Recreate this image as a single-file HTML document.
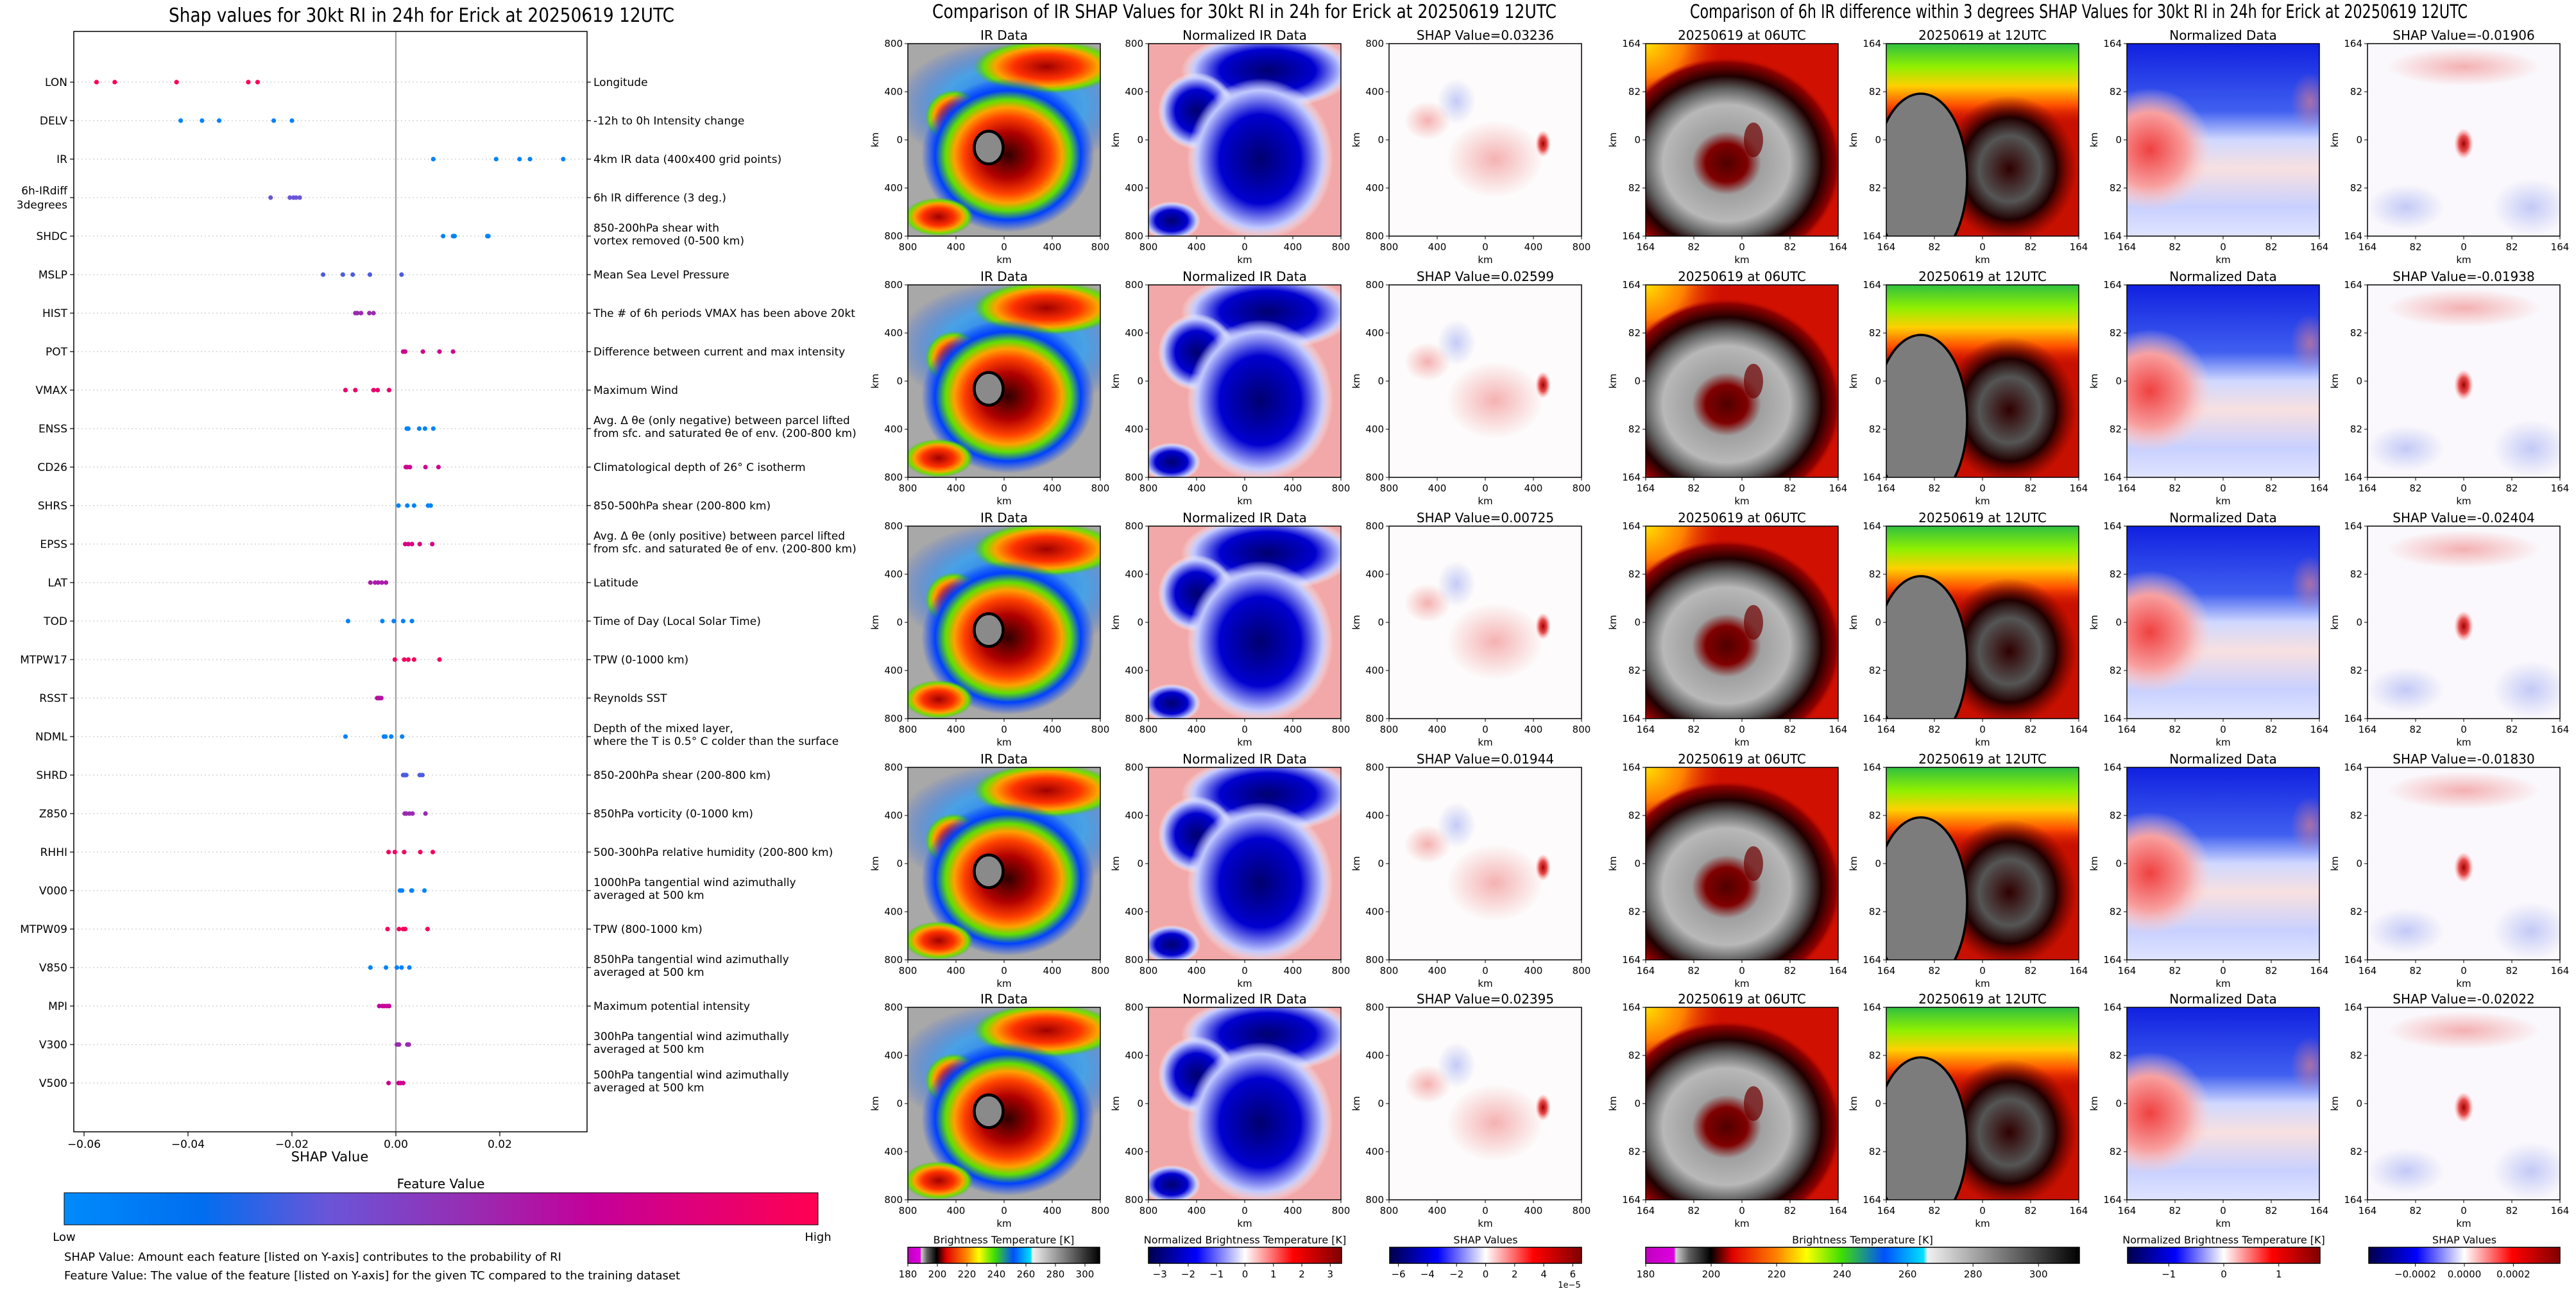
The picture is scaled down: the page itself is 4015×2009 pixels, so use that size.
<!DOCTYPE html>
<html><head><meta charset="utf-8">
<style>
html,body{margin:0;padding:0;background:#fff;}
svg{display:block;font-family:"DejaVu Sans","Liberation Sans",sans-serif;}
</style></head>
<body>
<svg id="root" width="4015" height="2009" viewBox="0 0 4015 2009" xmlns="http://www.w3.org/2000/svg">
<defs>
<radialGradient id="gBlueHalo"><stop offset="0" stop-color="#0050ff" stop-opacity="0.9"/><stop offset="0.6" stop-color="#20a0ff" stop-opacity="0.7"/><stop offset="1" stop-color="#0040ff" stop-opacity="0"/></radialGradient>
<radialGradient id="gRedBand"><stop offset="0" stop-color="#a00000"/><stop offset="0.45" stop-color="#ff3000"/><stop offset="0.7" stop-color="#ffa000"/><stop offset="0.85" stop-color="#70e000"/><stop offset="1" stop-color="#40c000" stop-opacity="0"/></radialGradient>
<radialGradient id="gStorm"><stop offset="0" stop-color="#300000"/><stop offset="0.3" stop-color="#b00000"/><stop offset="0.5" stop-color="#ff4000"/><stop offset="0.62" stop-color="#ffa000"/><stop offset="0.72" stop-color="#60e000"/><stop offset="0.84" stop-color="#0040ff"/><stop offset="1" stop-color="#0040ff" stop-opacity="0"/></radialGradient>
<radialGradient id="gNavy"><stop offset="0" stop-color="#000070"/><stop offset="0.55" stop-color="#0000d0"/><stop offset="0.85" stop-color="#c0c8ff"/><stop offset="1" stop-color="#ffffff" stop-opacity="0"/></radialGradient>
<radialGradient id="gPink"><stop offset="0" stop-color="#f08080" stop-opacity="0.6"/><stop offset="1" stop-color="#f08080" stop-opacity="0"/></radialGradient>
<radialGradient id="gPaleBlue"><stop offset="0" stop-color="#8090f0" stop-opacity="0.45"/><stop offset="1" stop-color="#8090f0" stop-opacity="0"/></radialGradient>
<radialGradient id="gRedSpot"><stop offset="0" stop-color="#a00000"/><stop offset="0.5" stop-color="#e02020" stop-opacity="0.8"/><stop offset="1" stop-color="#ff8080" stop-opacity="0"/></radialGradient>
<radialGradient id="gYellowCorner"><stop offset="0" stop-color="#ffe000"/><stop offset="0.5" stop-color="#ff8000"/><stop offset="1" stop-color="#e02000" stop-opacity="0"/></radialGradient>
<radialGradient id="gSpiral06"><stop offset="0" stop-color="#500000"/><stop offset="0.18" stop-color="#800000"/><stop offset="0.3" stop-color="#a0a0a0"/><stop offset="0.55" stop-color="#b8b8b8"/><stop offset="0.7" stop-color="#606060"/><stop offset="0.82" stop-color="#200000"/><stop offset="0.95" stop-color="#900000"/><stop offset="1" stop-color="#c01000" stop-opacity="0"/></radialGradient>
<radialGradient id="gRing12"><stop offset="0" stop-color="#300000"/><stop offset="0.45" stop-color="#555"/><stop offset="0.7" stop-color="#200000"/><stop offset="1" stop-color="#600000" stop-opacity="0"/></radialGradient>
<linearGradient id="gTop12" x1="0" y1="0" x2="0" y2="1"><stop offset="0" stop-color="#30c040"/><stop offset="0.12" stop-color="#90f000"/><stop offset="0.22" stop-color="#ffd000"/><stop offset="0.32" stop-color="#ff5000"/><stop offset="0.42" stop-color="#d01000" stop-opacity="0"/></linearGradient>
<linearGradient id="gNormData" x1="0" y1="0" x2="0" y2="1"><stop offset="0" stop-color="#1020e0"/><stop offset="0.35" stop-color="#4060f0"/><stop offset="0.5" stop-color="#d0d8ff"/><stop offset="0.65" stop-color="#f8e0e0"/><stop offset="0.85" stop-color="#c8d0ff"/><stop offset="1" stop-color="#e0e4ff"/></linearGradient>
<radialGradient id="gRedLeft"><stop offset="0" stop-color="#f04040"/><stop offset="0.6" stop-color="#f8a0a0"/><stop offset="1" stop-color="#ffd0d0" stop-opacity="0"/></radialGradient>
<linearGradient id="cbFeature" x1="0" x2="1"><stop offset="0" stop-color="#008bfb"/><stop offset="0.18" stop-color="#006ef0"/><stop offset="0.35" stop-color="#6a55d8"/><stop offset="0.55" stop-color="#9a2ab0"/><stop offset="0.7" stop-color="#c4009a"/><stop offset="1" stop-color="#ff0052"/></linearGradient>
<linearGradient id="cbIR" x1="0" x2="1"><stop offset="0" stop-color="#c000c0"/><stop offset="0.065" stop-color="#e000e0"/><stop offset="0.07" stop-color="#d0d0d0"/><stop offset="0.1" stop-color="#606060"/><stop offset="0.15" stop-color="#000"/><stop offset="0.2" stop-color="#e00000"/><stop offset="0.3" stop-color="#ff8000"/><stop offset="0.37" stop-color="#ffff00"/><stop offset="0.45" stop-color="#40e000"/><stop offset="0.55" stop-color="#0050ff"/><stop offset="0.64" stop-color="#00e0ff"/><stop offset="0.65" stop-color="#f0f0f0"/><stop offset="1" stop-color="#000"/></linearGradient>
<linearGradient id="cbSeis" x1="0" x2="1"><stop offset="0" stop-color="#00004c"/><stop offset="0.25" stop-color="#0000ff"/><stop offset="0.5" stop-color="#ffffff"/><stop offset="0.75" stop-color="#ff0000"/><stop offset="1" stop-color="#800000"/></linearGradient>
</defs>
<g id="left-chart"></g>
<g id="images"></g>
<g id="cbars"></g>
</svg>
<script>
// ---- beeswarm data ----
const features = ["LON","DELV","IR","6h-IRdiff\n3degrees","SHDC","MSLP","HIST","POT","VMAX","ENSS","CD26","SHRS","EPSS","LAT","TOD","MTPW17","RSST","NDML","SHRD","Z850","RHHI","V000","MTPW09","V850","MPI","V300","V500"];
const descriptions = ["Longitude","-12h to 0h Intensity change","4km IR data (400x400 grid points)","6h IR difference (3 deg.)","850-200hPa shear with\nvortex removed (0-500 km)","Mean Sea Level Pressure","The # of 6h periods VMAX has been above 20kt","Difference between current and max intensity","Maximum Wind","Avg. Δ θe (only negative) between parcel lifted\nfrom sfc. and saturated θe of env. (200-800 km)","Climatological depth of 26° C isotherm","850-500hPa shear (200-800 km)","Avg. Δ θe (only positive) between parcel lifted\nfrom sfc. and saturated θe of env. (200-800 km)","Latitude","Time of Day (Local Solar Time)","TPW (0-1000 km)","Reynolds SST","Depth of the mixed layer,\nwhere the T is 0.5° C colder than the surface","850-200hPa shear (200-800 km)","850hPa vorticity (0-1000 km)","500-300hPa relative humidity (200-800 km)","1000hPa tangential wind azimuthally\naveraged at 500 km","TPW (800-1000 km)","850hPa tangential wind azimuthally\naveraged at 500 km","Maximum potential intensity","300hPa tangential wind azimuthally\naveraged at 500 km","500hPa tangential wind azimuthally\naveraged at 500 km"];
const shapValues = [
 [-0.0576,-0.0541,-0.0422,-0.0284,-0.0266],
 [-0.0414,-0.0373,-0.0340,-0.0235,-0.0200],
 [0.0072,0.0193,0.0238,0.0258,0.0322],
 [-0.0241,-0.0204,-0.0197,-0.0192,-0.0185],
 [0.0091,0.0110,0.0113,0.0176,0.0178],
 [-0.0140,-0.0102,-0.0083,-0.0050,0.0011],
 [-0.0078,-0.0074,-0.0067,-0.0051,-0.0043],
 [0.0014,0.0018,0.0052,0.0084,0.0110],
 [-0.0097,-0.0078,-0.0043,-0.0035,-0.0013],
 [0.0021,0.0024,0.0045,0.0056,0.0072],
 [0.0019,0.0022,0.0027,0.0057,0.0082],
 [0.0005,0.0022,0.0035,0.0062,0.0067],
 [0.0018,0.0024,0.0031,0.0046,0.0070],
 [-0.0049,-0.0040,-0.0034,-0.0027,-0.0019],
 [-0.0092,-0.0026,-0.0004,0.0014,0.0031],
 [-0.0002,0.0016,0.0024,0.0035,0.0084],
 [-0.0036,-0.0034,-0.0032,-0.0031,-0.0028],
 [-0.0097,-0.0023,-0.0020,-0.0009,0.0012],
 [0.0014,0.0017,0.0020,0.0046,0.0051],
 [0.0017,0.0020,0.0026,0.0032,0.0057],
 [-0.0014,-0.0002,0.0016,0.0047,0.0071],
 [0.0008,0.0012,0.0030,0.0031,0.0055],
 [-0.0016,0.0006,0.0014,0.0018,0.0061],
 [-0.0049,-0.0019,0.0002,0.0011,0.0026],
 [-0.0032,-0.0026,-0.0022,-0.0017,-0.0013],
 [0.0002,0.0006,0.0022,0.0025],
 [-0.0014,0.0005,0.0009,0.0014]
];
const featureLevels = [0.98,0.05,0.05,0.35,0.05,0.3,0.55,0.75,0.9,0.05,0.75,0.05,0.8,0.6,0.05,0.95,0.65,0.05,0.3,0.55,0.95,0.05,0.95,0.05,0.7,0.55,0.75];
const xTicks = [-0.06,-0.04,-0.02,0.00,0.02];
const xTickLabels = ["−0.06","−0.04","−0.02","0.00","0.02"];
// ---- image panel data ----
const irShapTitles = ["0.03236","0.02599","0.00725","0.01944","0.02395"];
const diffShapTitles = ["-0.01906","-0.01938","-0.02404","-0.01830","-0.02022"];
const kmTicksLeft = ["800","400","0","400","800"];
const kmTicksRight = ["164","82","0","82","164"];

const NS="http://www.w3.org/2000/svg";
function el(tag, attrs, parent, text){
  const e=document.createElementNS(NS,tag);
  for(const k in attrs) e.setAttribute(k,attrs[k]);
  if(text!==undefined) e.textContent=text;
  parent.appendChild(e); return e;
}
function featColor(t){
  const stops=[[0,[0,139,251]],[0.18,[0,110,240]],[0.35,[106,85,216]],[0.55,[154,42,176]],[0.7,[196,0,154]],[1,[255,0,82]]];
  for(let i=1;i<stops.length;i++){ if(t<=stops[i][0]){const a=stops[i-1],b=stops[i];const f=(t-a[0])/(b[0]-a[0]);
    return "rgb("+a[1].map((v,j)=>Math.round(v+(b[1][j]-v)*f)).join(",")+")";}}
  return "rgb(255,0,82)";
}
// ---- left chart ----
const L=document.getElementById('left-chart');
const ax={l:115,r:915,t:49,b:1764};
const xScale=v=>617+v*8100;
const yRow=i=>128+60*i;
let t=el('text',{x:263,y:34,'font-size':30,textLength:788,lengthAdjust:'spacingAndGlyphs'},L,"Shap values for 30kt RI in 24h for Erick at 20250619 12UTC");
 
features.forEach((f,i)=>{
  const y=yRow(i);
  const g=el('line',{x1:ax.l,x2:ax.r,y1:y,y2:y,stroke:'#ccc','stroke-width':1.2,'stroke-dasharray':'2,4'},L);
   
  el('line',{x1:ax.l-6,x2:ax.l,y1:y,y2:y,stroke:'#000','stroke-width':1.2},L);
  el('line',{x1:ax.r,x2:ax.r+6,y1:y,y2:y,stroke:'#000','stroke-width':1.2},L);
  const lines=f.split("\n");
  const lt=el('text',{x:105,y:0,'font-size':17,'text-anchor':'end'},L);
   
  lines.forEach((s,k)=>{el('tspan',{x:105,y:y+6+(k-(lines.length-1)/2)*22},lt,s);});
  const dl=descriptions[i].split("\n");
  const dt=el('text',{x:925,y:0,'font-size':17},L);
   
  dl.forEach((s,k)=>{el('tspan',{x:925,y:y+6+(k-(dl.length-1)/2)*20-(dl.length>1?3:0)},dt,s);});
});
let zl=el('line',{x1:xScale(0),x2:xScale(0),y1:ax.t,y2:ax.b,stroke:'#999','stroke-width':2},L);
 
shapValues.forEach((vals,i)=>{
  vals.forEach(v=>{
    const c=el('circle',{cx:xScale(v),cy:yRow(i),r:3.6,fill:featColor(featureLevels[i])},L);
     
  });
});
let fr=el('rect',{x:ax.l,y:ax.t,width:ax.r-ax.l,height:ax.b-ax.t,fill:'none',stroke:'#000','stroke-width':1.5},L);
 
xTicks.forEach((v,k)=>{
  el('line',{x1:xScale(v),x2:xScale(v),y1:ax.b,y2:ax.b+7,stroke:'#000','stroke-width':1.2},L);
  const tt=el('text',{x:xScale(v),y:ax.b+25,'font-size':17,'text-anchor':'middle'},L,xTickLabels[k]);
   
});
t=el('text',{x:514,y:1810,'font-size':21,'text-anchor':'middle'},L,"SHAP Value");
 
t=el('text',{x:687,y:1852,'font-size':20,'text-anchor':'middle'},L,"Feature Value");
 
let cb=el('rect',{x:100,y:1859,width:1175,height:50,fill:'url(#cbFeature)',stroke:'#000','stroke-width':1},L);
 
t=el('text',{x:100,y:1934,'font-size':18,'text-anchor':'middle'},L,"Low");
 
t=el('text',{x:1275,y:1934,'font-size':18,'text-anchor':'middle'},L,"High");
 
t=el('text',{x:100,y:1965,'font-size':18},L,"SHAP Value: Amount each feature [listed on Y-axis] contributes to the probability of RI");
 
t=el('text',{x:100,y:1994,'font-size':18},L,"Feature Value: The value of the feature [listed on Y-axis] for the given TC compared to the training dataset");
 

// ---- image panels ----
const IM=document.getElementById('images');
t=el('text',{x:1453,y:28,'font-size':29,textLength:973,lengthAdjust:'spacingAndGlyphs'},IM,"Comparison of IR SHAP Values for 30kt RI in 24h for Erick at 20250619 12UTC");
 
t=el('text',{x:2634,y:28,'font-size':29,textLength:1212,lengthAdjust:'spacingAndGlyphs'},IM,"Comparison of 6h IR difference within 3 degrees SHAP Values for 30kt RI in 24h for Erick at 20250619 12UTC");
 
const rowTops=[68,444,820,1196,1570];
const colX=[1415,1790,2165,2565,2940,3315,3690];
const W=300;
function content(type,s){
  const E=(tag,a)=>el(tag,a,s);
  if(type==='ir'){
    E('rect',{x:0,y:0,width:1,height:1,fill:'#a8a8a8'});
    E('ellipse',{cx:.55,cy:.32,rx:.62,ry:.34,fill:'url(#gBlueHalo)'});
    E('ellipse',{cx:.72,cy:.12,rx:.38,ry:.14,fill:'url(#gRedBand)'});
    E('ellipse',{cx:.24,cy:.38,rx:.15,ry:.14,fill:'url(#gRedBand)'});
    E('ellipse',{cx:.52,cy:.58,rx:.45,ry:.4,fill:'url(#gStorm)'});
    E('ellipse',{cx:.16,cy:.9,rx:.18,ry:.1,fill:'url(#gRedBand)'});
    E('ellipse',{cx:.42,cy:.54,rx:.075,ry:.085,fill:'#8a8a8a',stroke:'#000','stroke-width':.015});
  } else if(type==='nir'){
    E('rect',{x:0,y:0,width:1,height:1,fill:'#f2a8a8'});
    E('ellipse',{cx:.62,cy:.14,rx:.45,ry:.2,fill:'url(#gNavy)'});
    E('ellipse',{cx:.25,cy:.35,rx:.2,ry:.2,fill:'url(#gNavy)'});
    E('ellipse',{cx:.58,cy:.6,rx:.38,ry:.42,fill:'url(#gNavy)'});
    E('ellipse',{cx:.12,cy:.92,rx:.15,ry:.1,fill:'url(#gNavy)'});
  } else if(type==='sir'){
    E('rect',{x:0,y:0,width:1,height:1,fill:'#fdfbfb'});
    E('ellipse',{cx:.2,cy:.4,rx:.12,ry:.1,fill:'url(#gPink)'});
    E('ellipse',{cx:.55,cy:.6,rx:.25,ry:.2,fill:'url(#gPink)'});
    E('ellipse',{cx:.35,cy:.3,rx:.1,ry:.12,fill:'url(#gPaleBlue)'});
    E('ellipse',{cx:.8,cy:.52,rx:.04,ry:.07,fill:'url(#gRedSpot)'});
  } else if(type==='t06'){
    E('rect',{x:0,y:0,width:1,height:1,fill:'#d01000'});
    E('ellipse',{cx:0,cy:0,rx:.4,ry:.35,fill:'url(#gYellowCorner)'});
    E('ellipse',{cx:.42,cy:.62,rx:.6,ry:.55,fill:'url(#gSpiral06)'});
    E('ellipse',{cx:.56,cy:.5,rx:.05,ry:.09,fill:'#700000',opacity:.7});
  } else if(type==='t12'){
    E('rect',{x:0,y:0,width:1,height:1,fill:'#c81000'});
    E('rect',{x:0,y:0,width:1,height:1,fill:'url(#gTop12)'});
    E('ellipse',{cx:.64,cy:.65,rx:.35,ry:.38,fill:'url(#gRing12)'});
    E('ellipse',{cx:.18,cy:.7,rx:.24,ry:.44,fill:'#7c7c7c',stroke:'#000','stroke-width':.012});
  } else if(type==='nd'){
    E('rect',{x:0,y:0,width:1,height:1,fill:'url(#gNormData)'});
    E('ellipse',{cx:.12,cy:.55,rx:.32,ry:.32,fill:'url(#gRedLeft)'});
    E('ellipse',{cx:.95,cy:.3,rx:.1,ry:.15,fill:'url(#gPink)'});
  } else {
    E('rect',{x:0,y:0,width:1,height:1,fill:'#faf8fc'});
    E('ellipse',{cx:.5,cy:.12,rx:.4,ry:.1,fill:'url(#gPink)'});
    E('ellipse',{cx:.85,cy:.85,rx:.2,ry:.15,fill:'url(#gPaleBlue)'});
    E('ellipse',{cx:.2,cy:.85,rx:.2,ry:.12,fill:'url(#gPaleBlue)'});
    E('ellipse',{cx:.5,cy:.52,rx:.05,ry:.08,fill:'url(#gRedSpot)'});
  }
}
const types=['ir','nir','sir','t06','t12','nd','sd'];
const typeNames=['ir-data-panel','normalized-ir-panel','ir-shap-panel','ir-06utc-panel','ir-12utc-panel','normalized-diff-panel','diff-shap-panel'];
rowTops.forEach((top,r)=>{
  colX.forEach((x0,c)=>{
    const title = c===0?"IR Data":c===1?"Normalized IR Data":c===2?"SHAP Value="+irShapTitles[r]:c===3?"20250619 at 06UTC":c===4?"20250619 at 12UTC":c===5?"Normalized Data":"SHAP Value="+diffShapTitles[r];
    const tt=el('text',{x:x0+W/2,y:top-6,'font-size':20,'text-anchor':'middle'},IM,title);
     
    const s=el('svg',{x:x0,y:top,width:W,height:W,viewBox:'0 0 1 1',preserveAspectRatio:'none'},IM);
     
    content(types[c],s);
    el('rect',{x:x0,y:top,width:W,height:W,fill:'none',stroke:'#000','stroke-width':1.5},IM);
    const labs=c<3?kmTicksLeft:kmTicksRight;
    labs.forEach((lb,k)=>{
      const p=k*W/4;
      el('line',{x1:x0-5,x2:x0,y1:top+p,y2:top+p,stroke:'#000'},IM);
      el('line',{x1:x0+p,x2:x0+p,y1:top+W,y2:top+W+5,stroke:'#000'},IM);
      const yl=el('text',{x:x0-8,y:top+p+5,'font-size':15,'text-anchor':'end'},IM,lb);
       
      const xl=el('text',{x:x0+p,y:top+W+22,'font-size':15,'text-anchor':'middle'},IM,lb);
       
    });
    const kx=el('text',{x:x0+W/2,y:top+W+42,'font-size':15,'text-anchor':'middle'},IM,"km");
     
    const ky=el('text',{x:0,y:0,'font-size':15,'text-anchor':'middle',transform:`translate(${x0-46},${top+W/2}) rotate(-90)`},IM,"km");
     
  });
});

// ---- colorbars ----
const CB=document.getElementById('cbars');
const cbTitles=["Brightness Temperature [K]","Normalized Brightness Temperature [K]","SHAP Values","Brightness Temperature [K]","Normalized Brightness Temperature [K]","SHAP Values"];
const cbX=[[1415,1714],[1790,2091],[2166,2465],[2565,3241],[3316,3616],[3692,3990]];
const cbFill=['url(#cbIR)','url(#cbSeis)','url(#cbSeis)','url(#cbIR)','url(#cbSeis)','url(#cbSeis)'];
const cbTickVals=[[180,200,220,240,260,280,300],[-3,-2,-1,0,1,2,3],[-6,-4,-2,0,2,4,6],[180,200,220,240,260,280,300],[-1,0,1],[-0.0002,0,0.0002]];
const cbTickLabels=[["180","200","220","240","260","280","300"],["−3","−2","−1","0","1","2","3"],["−6","−4","−2","0","2","4","6"],["180","200","220","240","260","280","300"],["−1","0","1"],["−0.0002","0.0000","0.0002"]];
const cbRange=[[180,310],[-3.4,3.4],[-6.6,6.6],[180,312.5],[-1.75,1.75],[-0.00039,0.00039]];
cbX.forEach((xx,i)=>{
  const tt=el('text',{x:(xx[0]+xx[1])/2,y:1938,'font-size':16,'text-anchor':'middle'},CB,cbTitles[i]);
   
  const r=el('rect',{x:xx[0],y:1944,width:xx[1]-xx[0],height:25,fill:cbFill[i],stroke:'#000','stroke-width':1.5},CB);
   
  const sc=v=>xx[0]+(v-cbRange[i][0])/(cbRange[i][1]-cbRange[i][0])*(xx[1]-xx[0]);
  cbTickVals[i].forEach((v,k)=>{
    el('line',{x1:sc(v),x2:sc(v),y1:1969,y2:1974,stroke:'#000'},CB);
    const lb=el('text',{x:sc(v),y:1991,'font-size':15,'text-anchor':'middle'},CB,cbTickLabels[i][k]);
     
  });
});
t=el('text',{x:2446,y:2007,'font-size':13,'text-anchor':'middle'},CB,"1e−5");
 
</script>
</body></html>
